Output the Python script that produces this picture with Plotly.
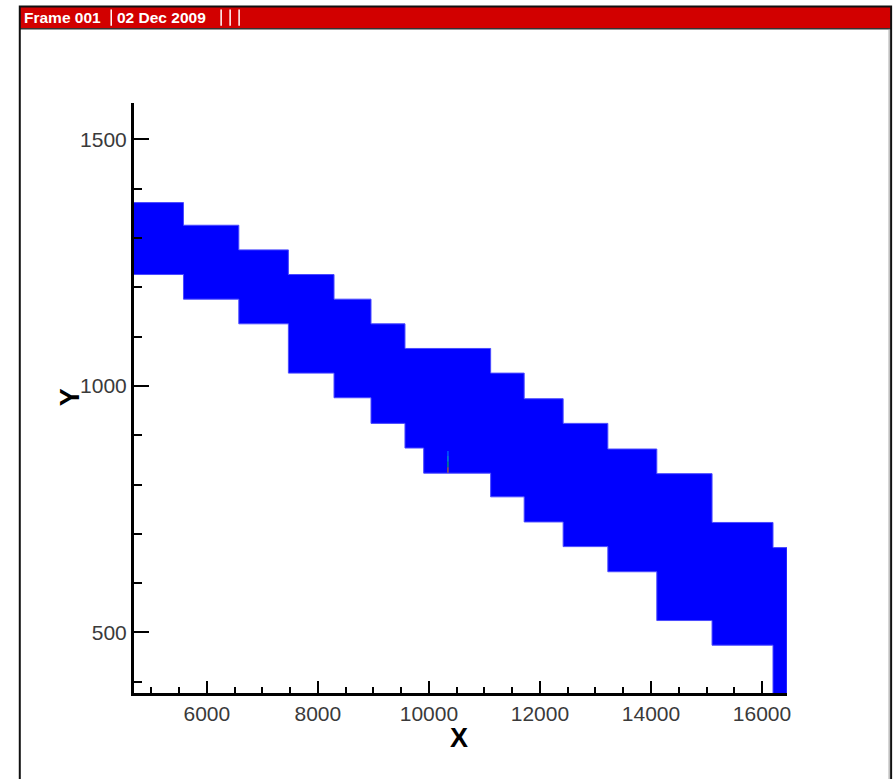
import plotly.graph_objects as go

# ---- data ----
x_edges = [4661, 5579, 6576, 7469, 8291, 8957, 9569, 9906, 11112, 11716,
           12418, 13223, 14105, 15100, 16198, 16450]
y_top = [1372, 1326, 1276, 1226, 1176, 1126, 1076, 1076, 1026, 974,
         924, 872, 822, 723, 672]
y_bottom = [1226, 1176, 1126, 1026, 976, 924, 874, 823, 775, 724,
            674, 623, 524, 474, 360]

# small coloured artefact segment inside the band
artefact_x = [10343, 10343, 10343, 10343, 10343]
artefact_y = [868, 858, 846, 835, 824]
artefact_colors = ["#0070ff", "#00b0c0", "#00b060", "#c07020"]

x_range = [4688, 16450]
y_range = [377, 1574]
x_ticks = [6000, 8000, 10000, 12000, 14000, 16000]
y_ticks = [500, 1000, 1500]

# ---- layout geometry (pixels) ----
W, H = 894, 779
ML, MR, MT, MB = 133.8, 106.7, 102.7, 85.8
PW = W - ML - MR
PH = H - MT - MB


def px(xp):
    return (xp - ML) / PW


def py(yp):
    return (H - MB - yp) / PH


# staircase polygon
poly_x, poly_y = [], []
for i in range(len(y_top)):
    poly_x += [x_edges[i], x_edges[i + 1]]
    poly_y += [y_top[i], y_top[i]]
for i in range(len(y_bottom) - 1, -1, -1):
    poly_x += [x_edges[i + 1], x_edges[i]]
    poly_y += [y_bottom[i], y_bottom[i]]
poly_x.append(poly_x[0])
poly_y.append(poly_y[0])

fig = go.Figure()
fig.add_trace(go.Scatter(
    x=poly_x, y=poly_y, mode="lines", fill="toself",
    fillcolor="#0000FF", line=dict(color="#4a4aff", width=1),
    hoverinfo="skip", showlegend=False))

for i in range(len(artefact_colors)):
    fig.add_trace(go.Scatter(
        x=artefact_x[i:i + 2], y=artefact_y[i:i + 2], mode="lines",
        line=dict(color=artefact_colors[i], width=1.2),
        hoverinfo="skip", showlegend=False))

tickfont = dict(family="Liberation Sans, Arial, sans-serif", size=21, color="#3a3a3a")

fig.update_xaxes(
    range=x_range, showline=True, linewidth=3, linecolor="black",
    ticks="inside", ticklen=12, tickwidth=2, tickcolor="black",
    tickvals=x_ticks, ticktext=[str(v) for v in x_ticks],
    minor=dict(ticks="inside", dtick=500, tick0=0, ticklen=6, tickwidth=1.5, tickcolor="black"),
    tickfont=tickfont, showgrid=False, zeroline=False, mirror=False,
)
fig.update_yaxes(
    range=y_range, showline=True, linewidth=3, linecolor="black",
    ticks="inside", ticklen=15, tickwidth=2, tickcolor="black",
    tickvals=y_ticks, ticktext=[str(v) for v in y_ticks],
    minor=dict(ticks="inside", dtick=100, tick0=0, ticklen=8, tickwidth=1.5, tickcolor="black"),
    tickfont=tickfont, showgrid=False, zeroline=False, mirror=False,
)

shapes = [
    # red header bar
    dict(type="rect", xref="paper", yref="paper",
         x0=px(19.5), x1=px(891.5), y0=py(28), y1=py(6),
         fillcolor="#D20000", line=dict(width=0), layer="below"),
    # header bottom line
    dict(type="line", xref="paper", yref="paper",
         x0=px(19.5), x1=px(891.5), y0=py(28.5), y1=py(28.5),
         line=dict(color="#333333", width=1.5)),
    # frame border
    dict(type="rect", xref="paper", yref="paper",
         x0=px(19.5), x1=px(891.5), y0=py(790), y1=py(6),
         line=dict(color="#111111", width=2)),
    dict(type="line", xref="paper", yref="paper",
         x0=px(889.5), x1=px(889.5), y0=py(790), y1=py(28.5),
         line=dict(color="#999999", width=1)),
]
# header separators
for sx in [111, 221, 230, 239]:
    shapes.append(dict(type="line", xref="paper", yref="paper",
                       x0=px(sx), x1=px(sx), y0=py(25.5), y1=py(9),
                       line=dict(color="white", width=1.5)))

hfont = dict(family="Liberation Sans, Arial, sans-serif", size=15.5, color="white")
annotations = [
    dict(text="<b>Frame 001</b>", xref="paper", yref="paper", x=px(22), y=py(17.5),
         xanchor="left", yanchor="middle", showarrow=False, font=hfont),
    dict(text="<b>02 Dec 2009</b>", xref="paper", yref="paper", x=px(115), y=py(17.5),
         xanchor="left", yanchor="middle", showarrow=False, font=hfont),
    dict(text="<b>X</b>", xref="paper", yref="paper", x=px(459.5), y=py(738),
         xanchor="center", yanchor="middle", showarrow=False,
         font=dict(family="Liberation Sans, Arial, sans-serif", size=27, color="black")),
    dict(text="<b>Y</b>", xref="paper", yref="paper", x=px(70), y=py(397),
         xanchor="center", yanchor="middle", showarrow=False, textangle=-90,
         font=dict(family="Liberation Sans, Arial, sans-serif", size=27, color="black")),
]

fig.update_layout(
    width=W, height=H,
    margin=dict(l=ML, r=MR, t=MT, b=MB, pad=0),
    paper_bgcolor="white", plot_bgcolor="white",
    shapes=shapes, annotations=annotations, showlegend=False,
)

fig.write_html("out.html", config={"displayModeBar": False})
